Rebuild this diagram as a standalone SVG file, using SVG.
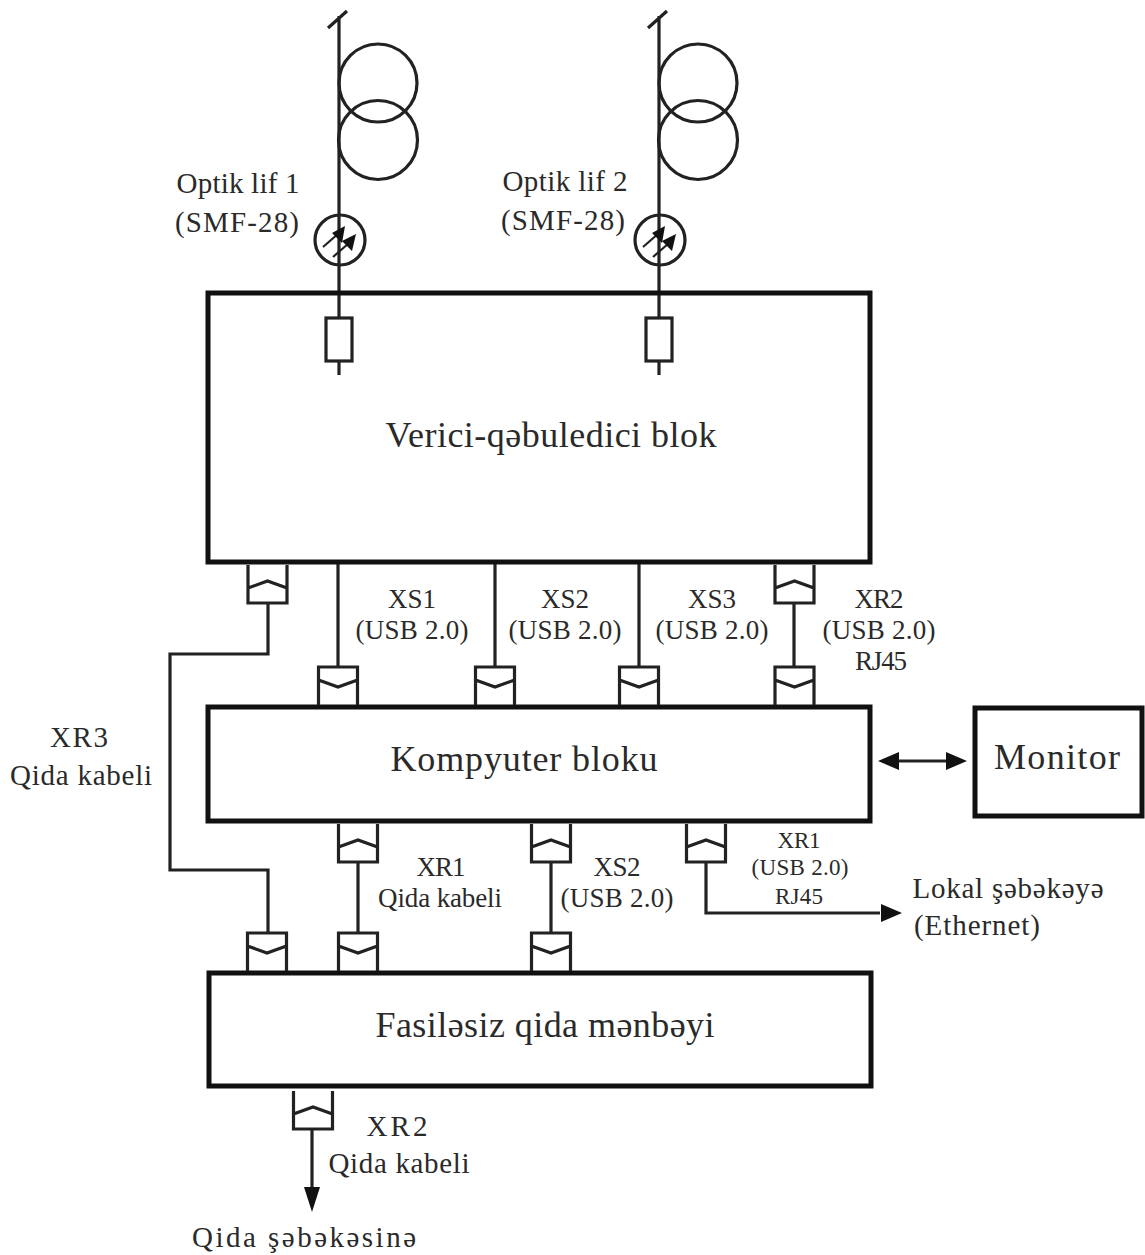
<svg xmlns="http://www.w3.org/2000/svg" xmlns:xlink="http://www.w3.org/1999/xlink" width="1145" height="1255" viewBox="0 0 1145 1255">
<style>
text{font-family:"Liberation Serif","Times New Roman",serif;fill:#2a2a2a;text-anchor:middle}
.t29{font-size:29px}.t27{font-size:27px}.t23{font-size:23px}.t36{font-size:36px}
.blk{fill:none;stroke:#111;stroke-width:5}
.ln{fill:none;stroke:#222;stroke-width:3.2}
.ah{fill:#111;stroke:none}
</style>
<defs>
<g id="sockU" class="ln"><path d="M-19.500 0V38H19.500V0M-19.500 23L0 16L19.500 23"/></g>
<g id="sockD" class="ln"><path d="M-19.500 38V0H19.500V38M-19.500 13L0 20L19.500 13"/></g>
<g id="xfmr">
<path class="ln" d="M0 16V292M-11 28L8 11" />
<circle class="ln" cx="39" cy="83" r="39"/>
<circle class="ln" cx="39" cy="140" r="39.500"/>
<circle class="ln" cx="1" cy="240" r="25" fill="#fff"/>
<path d="M-16 247L0 233M-6 257L10 243" stroke="#222" stroke-width="2.200" fill="none"/>
<path class="ah" d="M6 226L3 243L-7 233ZM17 234L13 251L3 241Z"/>
</g>
</defs>
<rect width="1145" height="1255" fill="#fff"/>
<g id="connectors">
<path class="ln" d="M339 292V318M339 361V375M659 292V318M659 361V375"/>
<path class="ln" d="M268 603V654H170V870H268V933"/>
<path class="ln" d="M338 564V667M495 564V667M639 564V667M794 603V667"/>
<path class="ln" d="M358 862V933M551 862V933"/>
<path class="ln" d="M706 862V913H880"/>
<path class="ah" d="M902 913L881 904V922Z"/>
<path class="ln" d="M312 1129V1190"/>
<path class="ah" d="M312 1212L304 1187H320Z"/>
<path class="ln" d="M895 761H950"/>
<path class="ah" d="M878 761L899 752V770ZM967 761L946 752V770Z"/>
</g>
<g id="node-fiber1"><use xlink:href="#xfmr" href="#xfmr" x="339"/>
<rect class="ln" x="326" y="318" width="26" height="43"/>
<text class="t29" x="238" y="193" textLength="123">Optik lif 1</text><text class="t29" x="237" y="232" textLength="124">(SMF-28)</text></g>
<g id="node-fiber2"><use xlink:href="#xfmr" href="#xfmr" x="659"/>
<rect class="ln" x="646" y="318" width="26" height="43"/>
<text class="t29" x="565" y="191" textLength="125">Optik lif 2</text><text class="t29" x="563" y="230" textLength="124">(SMF-28)</text></g>
<g id="node-transceiver"><rect class="blk" x="208" y="293" width="662" height="269"/>
<text class="t36" x="551" y="447" textLength="331">Verici-qəbuledici blok</text></g>
<g id="node-computer"><rect class="blk" x="208" y="707" width="662" height="114"/>
<text class="t36" x="524" y="771" textLength="267">Kompyuter bloku</text></g>
<g id="node-monitor"><rect class="blk" x="975" y="708" width="167" height="108"/>
<text class="t36" x="1057" y="769" textLength="126">Monitor</text></g>
<g id="node-ups"><rect class="blk" x="209" y="973" width="662" height="113"/>
<text class="t36" x="545" y="1037" textLength="339">Fasiləsiz qida mənbəyi</text></g>
<g id="sockets">
<use href="#sockU" x="267.500" y="565"/><use href="#sockU" x="794.500" y="565"/>
<use href="#sockD" x="338" y="667"/><use href="#sockD" x="495" y="667"/><use href="#sockD" x="639" y="667"/><use href="#sockD" x="794.500" y="667"/>
<use href="#sockU" x="358" y="824"/><use href="#sockU" x="551" y="824"/><use href="#sockU" x="706" y="824"/>
<use href="#sockD" x="267" y="933"/><use href="#sockD" x="358" y="933"/><use href="#sockD" x="551" y="933"/>
<use href="#sockU" x="313" y="1091"/>
</g>
<g id="labels">
<text class="t27" x="412" y="608" textLength="48">XS1</text><text class="t27" x="412" y="639" textLength="113">(USB 2.0)</text>
<text class="t27" x="565" y="608" textLength="48">XS2</text><text class="t27" x="565" y="639" textLength="113">(USB 2.0)</text>
<text class="t27" x="712" y="608" textLength="48">XS3</text><text class="t27" x="712" y="639" textLength="113">(USB 2.0)</text>
<text class="t27" x="879" y="608" textLength="49">XR2</text><text class="t27" x="879" y="639" textLength="113">(USB 2.0)</text><text class="t27" x="881" y="670" textLength="52">RJ45</text>
<text class="t29" x="79" y="747" textLength="58">XR3</text><text class="t29" x="81" y="785" textLength="142">Qida kabeli</text>
<text class="t27" x="441" y="876" textLength="49">XR1</text><text class="t27" x="440" y="907" textLength="124">Qida kabeli</text>
<text class="t27" x="617" y="876" textLength="47">XS2</text><text class="t27" x="617" y="907" textLength="113">(USB 2.0)</text>
<text class="t23" x="799" y="848" textLength="43">XR1</text><text class="t23" x="800" y="875" textLength="97">(USB 2.0)</text><text class="t23" x="799" y="904" textLength="48">RJ45</text>
<text class="t29" x="1008" y="898" textLength="191">Lokal şəbəkəyə</text><text class="t29" x="977" y="935" textLength="126">(Ethernet)</text>
<text class="t29" x="397" y="1136" textLength="61">XR2</text><text class="t29" x="399" y="1173" textLength="141">Qida kabeli</text>
<text class="t29" x="304" y="1247" textLength="224">Qida şəbəkəsinə</text>
</g>
</svg>
